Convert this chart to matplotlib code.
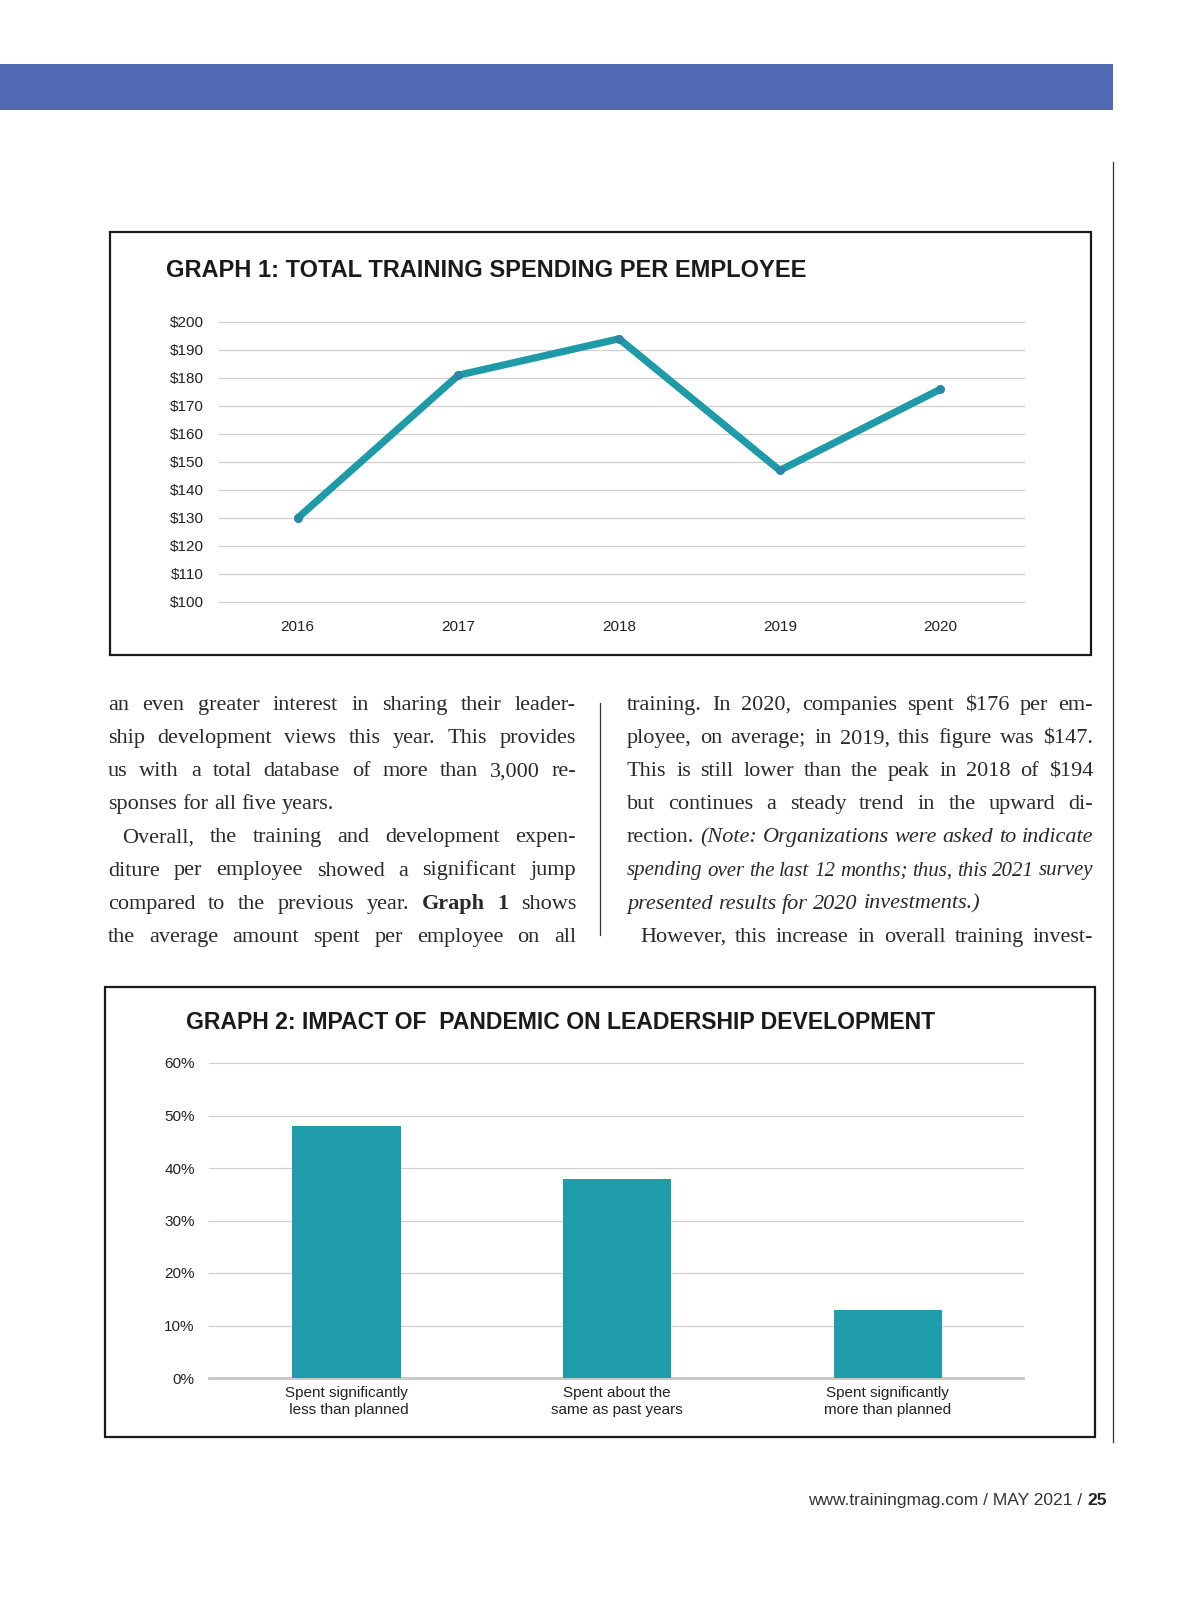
import matplotlib
matplotlib.use('Agg')
import matplotlib.pyplot as plt
from matplotlib.patches import Rectangle
from matplotlib.lines import Line2D

W, H = 1200, 1613          # page size in pixels (dpi 100)

# graph 1 data
years = ['2016', '2017', '2018', '2019', '2020']
spend = [130, 181, 194, 147, 176]
spend_ticks = [100, 110, 120, 130, 140, 150, 160, 170, 180, 190, 200]

# graph 2 data
impact_cats = ['Spent significantly\n less than planned',
               'Spent about the\nsame as past years',
               'Spent significantly\nmore than planned']
impact_share = [48, 38, 13]
share_ticks = [0, 10, 20, 30, 40, 50, 60]

title1 = 'GRAPH 1: TOTAL TRAINING SPENDING PER EMPLOYEE'
title2 = 'GRAPH 2: IMPACT OF  PANDEMIC ON LEADERSHIP DEVELOPMENT'

# body text, each line is a list of (text, style); n=normal b=bold i=italic
left_col = [
    [('an even greater interest in sharing their leader-', 'n')],
    [('ship development views this year. This provides', 'n')],
    [('us with a total database of more than 3,000 re-', 'n')],
    [('sponses for all five years.', 'n')],
    [('Overall, the training and development expen-', 'n')],
    [('diture per employee showed a significant jump', 'n')],
    [('compared to the previous year.', 'n'), ('Graph 1', 'b'), ('shows', 'n')],
    [('the average amount spent per employee on all', 'n')],
]
left_just = [True, True, True, False, True, True, True, True]
left_indent = [0, 0, 0, 0, 14, 0, 0, 0]

right_col = [
    [(r'training. In 2020, companies spent \$176 per em-', 'n')],
    [(r'ployee, on average; in 2019, this figure was \$147.', 'n')],
    [(r'This is still lower than the peak in 2018 of \$194', 'n')],
    [('but continues a steady trend in the upward di-', 'n')],
    [('rection.', 'n'), ('(Note: Organizations were asked to indicate', 'i')],
    [('spending over the last 12 months; thus, this 2021 survey', 'i')],
    [('presented results for 2020 investments.)', 'i')],
    [('However, this increase in overall training invest-', 'n')],
]
right_just = [True, True, True, True, True, True, False, True]
right_indent = [0, 0, 0, 0, 0, 0, 0, 13]

sans = ['Liberation Sans', 'DejaVu Sans']
serif = ['Liberation Serif', 'DejaVu Serif']
ink = '#222222'
teal = '#1f9aa8'


def fx(x):
    return x / W


def fy(y):
    return 1 - y / H


fig = plt.figure(figsize=(W / 100, H / 100), dpi=100)
fig.patch.set_facecolor('white')

# blue header band and right page rule
fig.patches.append(Rectangle((0, fy(110)), fx(1113), (110 - 64) / H,
                             transform=fig.transFigure, color='#5169b2', lw=0))
fig.lines.append(Line2D([fx(1113), fx(1113)], [fy(162), fy(1442)],
                        transform=fig.transFigure, color='#333333', lw=0.9))

# frames around the graphs
for (x0, y0, x1, y1) in [(110, 232, 1091, 655), (105, 987, 1095, 1437)]:
    fig.patches.append(Rectangle((fx(x0), fy(y1)), (x1 - x0) / W, (y1 - y0) / H,
                                 transform=fig.transFigure, fill=False,
                                 edgecolor='#1a1a1a', lw=1.6))

# ---- graph 1: line chart
ax1 = fig.add_axes([fx(219), fy(602), (1024 - 219) / W, (602 - 322) / H])
ax1.plot(range(len(years)), spend, color=teal, lw=5.2, solid_capstyle='round',
         marker='o', markersize=5.5, markerfacecolor='#2a87a8',
         markeredgecolor='#2a87a8', clip_on=False, zorder=3)
ax1.set_xlim(-0.49, 4.52)
ax1.set_ylim(100, 200)
ax1.set_yticks(spend_ticks)
ax1.set_yticklabels([r'\$%d' % v for v in spend_ticks])
ax1.set_xticks(range(len(years)))
ax1.set_xticklabels(years)
ax1.grid(axis='y', color='#d0d0d0', lw=0.9)
ax1.set_axisbelow(True)
ax1.tick_params(axis='y', length=0, pad=11, labelsize=11, labelcolor=ink)
ax1.tick_params(axis='x', length=0, pad=13, labelsize=11, labelcolor=ink)
for s in ax1.spines.values():
    s.set_visible(False)
ax1.patch.set_alpha(0)
for lab in ax1.get_xticklabels() + ax1.get_yticklabels():
    lab.set_family(sans)
for g in ax1.yaxis.get_gridlines():
    g.set_clip_on(False)

fig.text(fx(166), fy(277), title1, fontsize=17, weight='bold', family=sans,
         color='#1a1a1a', va='baseline')

# ---- graph 2: bar chart
ax2 = fig.add_axes([fx(208.6), fy(1378), (1023 - 208.6) / W, (1378 - 1063) / H])
ax2.bar(range(len(impact_cats)), impact_share, width=0.4, color='#1f9daa', zorder=3)
ax2.set_xlim(-0.51, 2.5)
ax2.set_ylim(0, 60)
ax2.set_yticks(share_ticks)
ax2.set_yticklabels(['%d%%' % v for v in share_ticks])
ax2.set_xticks(range(len(impact_cats)))
ax2.set_xticklabels(impact_cats, linespacing=1.2)
ax2.grid(axis='y', color='#d0d0d0', lw=0.9)
ax2.axhline(0, color='#c6c6c6', lw=2, zorder=2, clip_on=False)
ax2.set_axisbelow(True)
ax2.tick_params(axis='y', length=0, pad=10, labelsize=11, labelcolor=ink)
ax2.tick_params(axis='x', length=0, pad=6, labelsize=11, labelcolor=ink)
for s in ax2.spines.values():
    s.set_visible(False)
ax2.patch.set_alpha(0)
for lab in ax2.get_xticklabels() + ax2.get_yticklabels():
    lab.set_family(sans)
for g in ax2.yaxis.get_gridlines():
    g.set_clip_on(False)

fig.text(fx(186), fy(1029), title2, fontsize=16.6, weight='bold', family=sans,
         color='#1a1a1a', va='baseline')

# ---- body text in two justified columns
renderer = fig.canvas.get_renderer()
body_fs = 16
min_gap = 4.5


def put_line(segs, x0, x1, y, justify, indent):
    words = []
    for text, style in segs:
        for w in text.split():
            words.append((w, style))
    objs = []
    for w, style in words:
        t = fig.text(fx(x0), fy(y), w, fontsize=body_fs, family=serif,
                     color='#2a2a2a', va='baseline', ha='left',
                     weight='bold' if style == 'b' else 'normal',
                     style='italic' if style == 'i' else 'normal')
        objs.append(t)
    start = x0 + indent
    fs = body_fs
    widths = [t.get_window_extent(renderer).width for t in objs]
    # shrink a line a little if it does not fit the column
    while sum(widths) + min_gap * (len(objs) - 1) > x1 - start and fs > 12:
        fs -= 0.25
        for t in objs:
            t.set_fontsize(fs)
        widths = [t.get_window_extent(renderer).width for t in objs]
    gap = fs * 100 / 72 * 0.25
    if justify and len(objs) > 1:
        gap = (x1 - start - sum(widths)) / (len(objs) - 1)
    x = start
    for t, wd in zip(objs, widths):
        t.set_x(fx(x))
        x += wd + gap


for i, segs in enumerate(left_col):
    put_line(segs, 108, 576, 710 + 33.1 * i, left_just[i], left_indent[i])
for i, segs in enumerate(right_col):
    put_line(segs, 627, 1093, 710 + 33.1 * i, right_just[i], right_indent[i])

# column divider
fig.lines.append(Line2D([fx(600), fx(600)], [fy(703), fy(935)],
                        transform=fig.transFigure, color='#333333', lw=0.9))

# ---- footer
num = fig.text(fx(1107), fy(1505), '25', fontsize=12.5, weight='bold', family=sans,
               color='#222222', ha='right', va='baseline')
nw = num.get_window_extent(renderer).width
fig.text(fx(1107 - nw), fy(1505), 'www.trainingmag.com / MAY 2021 / ', fontsize=12.5,
         family=sans, color='#333333', ha='right', va='baseline')

fig.savefig('out.png', dpi=100)
